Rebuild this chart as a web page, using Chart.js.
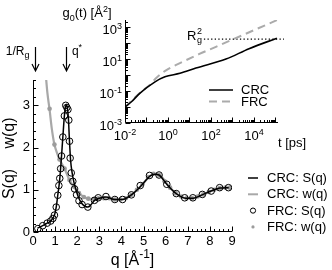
<!DOCTYPE html>
<html><head><meta charset="utf-8">
<script src="https://cdn.jsdelivr.net/npm/chart.js@4.4.1/dist/chart.umd.min.js"></script>
<style>
html,body{margin:0;padding:0;background:#fff;}
#wrap{position:relative;width:332px;height:270px;overflow:hidden;}
canvas{position:absolute;left:0;top:0;}
</style></head><body>
<div id="wrap"><canvas id="main" width="332" height="270"></canvas><canvas id="inset" width="332" height="270"></canvas></div>
<script>
const FONT = '"Liberation Sans", Arial, Helvetica, sans-serif';

// ---------- main panel data ----------
const qTicks = [0,1,2,3,4,5,6,7,8,9];
const qTickLabels = ['0','1','2','3','4','5','6','7','8','9'];
const sTicks = [0,1,2,3];
const sTickLabels = ['0','1','2','3'];

const crcS_q = [0.2,0.44,0.64,0.8,0.97,1.05,1.12,1.2,1.27,1.35,1.42,1.49,1.55,1.6,1.65,1.7,1.77,1.85,1.95,2.05,2.2,2.35,2.48,2.6,2.78,3.0,3.3,3.7,4.05,4.45,4.9,5.3,5.5,5.7,6.05,6.5,6.9,7.25,7.65,8.05,8.45,8.85];
const crcS_v = [0.09,0.15,0.21,0.26,0.4,0.59,0.87,1.2,1.65,2.25,2.75,3.02,2.95,2.7,2.15,1.7,1.4,1.18,0.99,0.83,0.68,0.61,0.59,0.63,0.75,0.8,0.83,0.77,0.77,0.88,1.1,1.33,1.37,1.35,1.13,0.9,0.8,0.8,0.88,0.97,1.04,1.05];

const frcS_q = [0.22,0.44,0.64,0.8,0.9,0.97,1.05,1.12,1.17,1.21,1.25,1.29,1.35,1.42,1.48,1.53,1.58,1.62,1.65,1.68,1.73,1.8,1.88,1.97,2.08,2.22,2.48,2.78,2.95,3.3,3.7,4.05,4.45,4.85,5.27,5.7,6.05,6.48,6.86,7.23,7.66,8.06,8.44,8.84];
const frcS_v = [0.08,0.15,0.21,0.26,0.32,0.4,0.59,0.87,1.1,1.27,1.5,1.8,2.25,2.75,3.0,2.95,2.9,2.65,2.15,1.75,1.4,1.2,1.02,0.88,0.74,0.65,0.59,0.75,0.81,0.84,0.77,0.77,0.88,1.1,1.34,1.35,1.13,0.91,0.81,0.81,0.89,0.97,1.05,1.05];

const crcW_q = [0.55,0.65,0.75,0.85,0.97,1.1,1.2,1.43,1.65,1.86,2.1,2.3,2.5,2.8,3.2,3.7,4.1,4.45,4.95,5.3,5.5,5.75,6.2,6.5,6.9,7.2,7.7,8.2,8.7,8.9];
const crcW_v = [3.9,3.3,2.9,2.45,2.07,1.85,1.72,1.5,1.23,1.06,0.91,0.83,0.79,0.78,0.8,0.77,0.78,0.88,1.13,1.33,1.38,1.34,1.05,0.91,0.8,0.8,0.89,1.0,1.05,1.05];

const frcW_q = [0.53,0.75,0.97,1.2,1.43,1.65,1.86,2.08,2.3,2.5,2.75,2.95,3.2,3.45,3.7,3.95,4.2,4.45,4.7,4.95,5.2,5.45,5.7,5.95,6.2,6.45,6.7,6.95,7.2,7.45,7.7,7.95,8.2,8.45,8.7,8.9];
const frcW_v = [4.2,2.92,2.07,1.72,1.5,1.23,1.07,0.92,0.83,0.79,0.78,0.8,0.8,0.8,0.77,0.77,0.8,0.88,1.0,1.13,1.3,1.38,1.35,1.2,1.05,0.92,0.84,0.8,0.8,0.84,0.89,0.95,1.0,1.04,1.05,1.05];

const arrowQ = [0.11, 1.49];           // 1/Rg and q*
const mainLegendLabels = ['CRC: S(q)','CRC: w(q)','FRC: S(q)','FRC: w(q)'];

// ---------- inset data ----------
const tTickExp = [-2,0,2,4];
const gTickExp = [-3,-1,1,3];
const crcG_t = [0.01,0.02,0.05,0.25,0.72,3.6,20,500,5900,117000];
const crcG_v = [0.01,0.0214,0.075,0.38,0.78,1.29,2.75,10,45,204];
const frcG_t = [0.01,0.05,0.145,0.3,0.81,3.6,27.5,170,117000];
const frcG_v = [0.01,0.079,0.25,0.71,2.0,5.6,20.4,59,2750];
const rg2_t = [47,251000];
const rg2_v = [178,178];
const insetLegendLabels = ['CRC','FRC'];

const GRAY_LINE = '#a8a8a8', GRAY_DOT = '#9c9c9c', GRAY_DASH = '#ababab';
const xy = (xs, ys) => xs.map((x, i) => ({x, y: ys[i]}));

function rich(ctx, parts, x, y, size, align) {
  const ss = Math.round(size * 0.72);
  let w = 0;
  for (const [t, m] of parts) { ctx.font = (m ? ss : size) + 'px ' + FONT; w += ctx.measureText(t).width; }
  let cx = align === 'center' ? x - w / 2 : align === 'right' ? x - w : x;
  ctx.textAlign = 'left'; ctx.textBaseline = 'alphabetic'; ctx.fillStyle = '#000';
  for (const [t, m] of parts) {
    ctx.font = (m ? ss : size) + 'px ' + FONT;
    const dy = m === 1 ? -size * 0.42 : m === -1 ? size * 0.28 : 0;
    ctx.fillText(t, cx, y + dy);
    cx += ctx.measureText(t).width;
  }
  return w;
}

// ---------- main chart ----------
const mainDecor = {
  id: 'mainDecor',
  afterDraw(chart) {
    const ctx = chart.ctx, xs = chart.scales.x, ys = chart.scales.y;
    const {left, right, top, bottom} = chart.chartArea;
    ctx.save();
    ctx.strokeStyle = '#000'; ctx.lineWidth = 1;
    const L = Math.round(left) + 0.5, B = Math.round(bottom) - 0.5;
    ctx.beginPath();
    ctx.moveTo(L, Math.round(top)); ctx.lineTo(L, B); ctx.lineTo(Math.round(right), B);
    ctx.stroke();
    ctx.beginPath();
    for (let v = xs.min; v <= xs.max + 1e-9; v += 0.2) {
      const px = Math.round(xs.getPixelForValue(v)) + 0.5;
      const major = Math.abs(v - Math.round(v)) < 1e-6;
      ctx.moveTo(px, B); ctx.lineTo(px, B - (major ? 5 : 2.5));
    }
    for (let v = ys.min; v <= ys.max + 1e-9; v += 0.2) {
      const py = Math.round(ys.getPixelForValue(v)) + 0.5;
      const major = Math.abs(v - Math.round(v)) < 1e-6;
      ctx.moveTo(L, py); ctx.lineTo(L + (major ? 5 : 2.5), py);
    }
    ctx.stroke();
    rich(ctx, [['q [Å',0],['-1',1],[']',0]], (left + right) / 2, 265, 16, 'center');
    ctx.save();
    ctx.font = '16px ' + FONT; ctx.fillStyle = '#000'; ctx.textAlign = 'center'; ctx.textBaseline = 'middle';
    ctx.translate(10, 184); ctx.rotate(-Math.PI / 2); ctx.fillText('S(q)', 0, 0);
    ctx.restore();
    ctx.save();
    ctx.font = '16px ' + FONT; ctx.fillStyle = '#000'; ctx.textAlign = 'center'; ctx.textBaseline = 'middle';
    ctx.translate(10, 133); ctx.rotate(-Math.PI / 2); ctx.fillText('w(q)', 0, 0);
    ctx.restore();
    ctx.lineWidth = 1.2;
    arrowQ.forEach(q => {
      const ax = Math.round(xs.getPixelForValue(q)) + 0.5;
      ctx.beginPath();
      ctx.moveTo(ax, 47); ctx.lineTo(ax, 71);
      ctx.moveTo(ax - 3.5, 64); ctx.lineTo(ax, 71); ctx.lineTo(ax + 3.5, 64);
      ctx.stroke();
    });
    const a0 = xs.getPixelForValue(arrowQ[0]), a1 = xs.getPixelForValue(arrowQ[1]);
    rich(ctx, [['1/R',0],['g',-1]], a0 - 6, 55, 12, 'right');
    rich(ctx, [['q',0],['*',1]], a1 + 6, 55, 12, 'left');
    const lx = 248, tx = 267, y0 = 178, dy = 16.3;
    ctx.font = '13px ' + FONT; ctx.textBaseline = 'middle'; ctx.textAlign = 'left'; ctx.fillStyle = '#000';
    mainLegendLabels.forEach((lab, i) => {
      const y = y0 + i * dy;
      if (i === 0) { ctx.strokeStyle = '#000'; ctx.lineWidth = 1.5; ctx.beginPath(); ctx.moveTo(lx, y); ctx.lineTo(lx + 10, y); ctx.stroke(); }
      if (i === 1) { ctx.strokeStyle = GRAY_LINE; ctx.lineWidth = 2; ctx.beginPath(); ctx.moveTo(lx, y); ctx.lineTo(lx + 10, y); ctx.stroke(); }
      if (i === 2) { ctx.strokeStyle = '#000'; ctx.lineWidth = 1; ctx.beginPath(); ctx.arc(lx + 5, y, 2.6, 0, Math.PI * 2); ctx.stroke(); }
      if (i === 3) { ctx.fillStyle = GRAY_DOT; ctx.beginPath(); ctx.arc(lx + 5, y, 1.6, 0, Math.PI * 2); ctx.fill(); }
      ctx.fillStyle = '#000';
      ctx.fillText(lab, tx, y + 0.5);
    });
    ctx.restore();
  }
};

new Chart(document.getElementById('main'), {
  type: 'scatter',
  data: { datasets: [
    { label: mainLegendLabels[2], data: xy(frcS_q, frcS_v), showLine: false, pointRadius: 3.3, pointBorderWidth: 1,
      pointBorderColor: '#000', pointBackgroundColor: 'rgba(0,0,0,0)' },
    { label: mainLegendLabels[0], data: xy(crcS_q, crcS_v), showLine: true, borderColor: '#000', borderWidth: 1.5,
      pointRadius: 0, cubicInterpolationMode: 'monotone' },
    { label: mainLegendLabels[3], data: xy(frcW_q, frcW_v), showLine: false, pointRadius: 2.3, pointBorderWidth: 0,
      pointBackgroundColor: GRAY_DOT },
    { label: mainLegendLabels[1], data: xy(crcW_q, crcW_v), showLine: true, borderColor: GRAY_LINE, borderWidth: 2.2,
      pointRadius: 0, cubicInterpolationMode: 'monotone' }
  ]},
  options: {
    responsive: false, animation: false, events: [],
    layout: { padding: { left: 0, top: 80, right: 100, bottom: 0 } },
    plugins: { legend: { display: false }, tooltip: { enabled: false } },
    scales: {
      x: { type: 'linear', min: 0, max: 9,
        afterBuildTicks: s => { s.ticks = qTicks.map(v => ({value: v})); },
        ticks: { callback: (v) => qTickLabels[qTicks.indexOf(v)], font: { family: FONT, size: 13 }, color: '#000', padding: 2, maxRotation: 0 },
        grid: { display: false, drawTicks: false }, border: { display: false },
        afterFit: s => { s.height = 38; } },
      y: { type: 'linear', min: 0, max: 3.6,
        afterBuildTicks: s => { s.ticks = sTicks.map(v => ({value: v})); },
        ticks: { callback: (v) => sTickLabels[sTicks.indexOf(v)], font: { family: FONT, size: 13 }, color: '#000', padding: 3 },
        grid: { display: false, drawTicks: false }, border: { display: false },
        afterFit: s => { s.width = 33; } }
    }
  },
  plugins: [mainDecor]
});

// ---------- inset chart ----------
const insetDecor = {
  id: 'insetDecor',
  afterDraw(chart) {
    const ctx = chart.ctx, xs = chart.scales.x, ys = chart.scales.y;
    const {left, right, top, bottom} = chart.chartArea;
    ctx.save();
    ctx.strokeStyle = '#000'; ctx.lineWidth = 1;
    const L = Math.round(left) + 0.5, B = Math.round(bottom) - 0.5;
    ctx.beginPath();
    ctx.moveTo(L, Math.round(top)); ctx.lineTo(L, B); ctx.lineTo(Math.round(right), B);
    ctx.stroke();
    ctx.beginPath();
    for (let k = -3; k <= 6; k++) {
      for (let m = 1; m <= 9; m++) {
        const v = m * Math.pow(10, k);
        if (v >= xs.min * 0.999 && v <= xs.max * 1.001) {
          const px = Math.round(xs.getPixelForValue(v)) + 0.5;
          ctx.moveTo(px, B); ctx.lineTo(px, B - (m === 1 ? 5 : 2.5));
        }
        if (v >= ys.min * 0.999 && v <= ys.max * 1.001) {
          const py = Math.round(ys.getPixelForValue(v)) + 0.5;
          ctx.moveTo(L, py); ctx.lineTo(L + (m === 1 ? 5 : 2.5), py);
        }
      }
    }
    ctx.stroke();
    tTickExp.forEach(e => {
      const px = xs.getPixelForValue(Math.pow(10, e));
      rich(ctx, [['10',0],[String(e),1]], px, 140, 13, 'center');
    });
    gTickExp.forEach(e => {
      const py = ys.getPixelForValue(Math.pow(10, e));
      rich(ctx, [['10',0],[String(e),1]], left - 3, py + 7, 13, 'right');
    });
    rich(ctx, [['g',0],['0',-1],['(t) [Å',0],['2',1],[']',0]], 87, 17, 13, 'center');
    rich(ctx, [['t [ps]',0]], 278, 147, 13, 'left');
    const ry = ys.getPixelForValue(rg2_v[0]);
    ctx.font = '13px ' + FONT; ctx.fillStyle = '#000'; ctx.textAlign = 'left'; ctx.textBaseline = 'alphabetic';
    ctx.fillText('R', 187, ry + 1);
    const rw = ctx.measureText('R').width;
    ctx.font = '9px ' + FONT;
    ctx.fillText('2', 187 + rw + 0.5, ry - 5);
    ctx.fillText('g', 187 + rw + 0.5, ry + 4);
    const lx = 209, tx = 241;
    ctx.font = '13px ' + FONT; ctx.textBaseline = 'middle';
    [90, 101.5].forEach((y, i) => {
      ctx.beginPath();
      if (i === 0) { ctx.strokeStyle = '#000'; ctx.lineWidth = 1.5; ctx.setLineDash([]); }
      else { ctx.strokeStyle = GRAY_DASH; ctx.lineWidth = 2; ctx.setLineDash([8, 5]); }
      ctx.moveTo(lx, y); ctx.lineTo(lx + 24, y); ctx.stroke();
      ctx.setLineDash([]);
      ctx.fillStyle = '#000';
      ctx.fillText(insetLegendLabels[i], tx, y + 0.5);
    });
    ctx.restore();
  }
};

new Chart(document.getElementById('inset'), {
  type: 'scatter',
  data: { datasets: [
    { label: 'CRC', data: xy(crcG_t, crcG_v), showLine: true, borderColor: '#000', borderWidth: 1.6, pointRadius: 0, cubicInterpolationMode: 'monotone' },
    { label: 'FRC', data: xy(frcG_t, frcG_v), showLine: true, borderColor: GRAY_DASH, borderWidth: 2, borderDash: [8, 5], pointRadius: 0, cubicInterpolationMode: 'monotone' },
    { label: 'Rg2', data: xy(rg2_t, rg2_v), showLine: true, borderColor: '#000', borderWidth: 1.3, borderDash: [1.3, 2.3], pointRadius: 0, clip: false }
  ]},
  options: {
    responsive: false, animation: false, events: [],
    layout: { padding: { left: 0, top: 20, right: 54, bottom: 0 } },
    plugins: { legend: { display: false }, tooltip: { enabled: false } },
    scales: {
      x: { type: 'logarithmic', min: 0.01, max: 1.32e5, ticks: { display: false }, grid: { display: false }, border: { display: false },
        afterFit: s => { s.height = 147; } },
      y: { type: 'logarithmic', min: 0.001, max: 2818, ticks: { display: false }, grid: { display: false }, border: { display: false },
        afterFit: s => { s.width = 125; } }
    }
  },
  plugins: [insetDecor]
});
</script>
</body></html>
